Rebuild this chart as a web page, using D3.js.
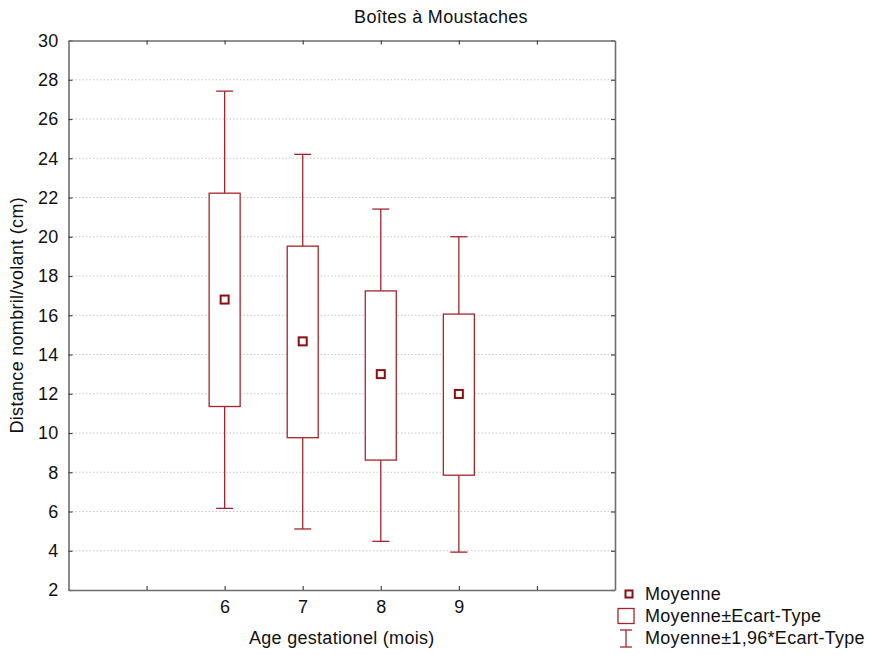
<!DOCTYPE html>
<html>
<head>
<meta charset="utf-8">
<script src="https://cdn.jsdelivr.net/npm/d3@7"></script>
<style>
  body { margin: 0; background: #fff; }
  text { font-family: "Liberation Sans", Arial, sans-serif; fill: #111; letter-spacing: 0.3px; }
</style>
</head>
<body>
<svg id="chart"></svg>
<script>
const width = 869;
const height = 655;

// values
const ages = [6, 7, 8, 9];
const means = [16.8, 14.67, 13.0, 11.99];
const boxLow = [11.35, 9.76, 8.62, 7.85];
const boxHigh = [22.22, 19.52, 17.24, 16.06];
const whiskerLow = [6.16, 5.11, 4.48, 3.93];
const whiskerHigh = [27.42, 24.2, 21.41, 20.0];
const yTicks = [2, 4, 6, 8, 10, 12, 14, 16, 18, 20, 22, 24, 26, 28, 30];
const xTicks = [5, 6, 7, 8, 9, 10];

const data = ages.map((a, i) => ({
  age: a, mean: means[i], lo: boxLow[i], hi: boxHigh[i], wlo: whiskerLow[i], whi: whiskerHigh[i]
}));

const margin = { top: 40.5, right: 254, bottom: 65, left: 68.5 };
const plotW = width - margin.left - margin.right;
const plotH = height - margin.top - margin.bottom;
const fs = "18px";

const red = "#a3262b";
const darkRed = "#8b0d12";
const axisColor = "#6e6e6e";

const svg = d3.select("#chart").attr("width", width).attr("height", height);
const g = svg.append("g").attr("transform", `translate(${margin.left},${margin.top})`);

const x = d3.scaleLinear().domain([4, 11]).range([0, plotW]);
const y = d3.scaleLinear().domain([2, 30]).range([plotH, 0]);

// dotted horizontal grid
g.append("g")
  .selectAll("line")
  .data(yTicks.filter(t => t > 2 && t < 30))
  .join("line")
  .attr("x1", 0).attr("x2", plotW)
  .attr("y1", d => y(d)).attr("y2", d => y(d))
  .attr("stroke", "#c8c8c8")
  .attr("stroke-width", 1)
  .attr("stroke-dasharray", "1.5,2");

// axes with inward ticks
const axLeft = g.append("g")
  .call(d3.axisLeft(y).tickValues(yTicks).tickSizeInner(-4).tickSizeOuter(0).tickPadding(10).tickFormat(d3.format("d")));
const axRight = g.append("g").attr("transform", `translate(${plotW},0)`)
  .call(d3.axisRight(y).tickValues(yTicks).tickSizeInner(-4).tickSizeOuter(0).tickFormat(""));
const axBottom = g.append("g").attr("transform", `translate(0,${plotH})`)
  .call(d3.axisBottom(x).tickValues(xTicks).tickSizeInner(-4).tickSizeOuter(0).tickPadding(10)
    .tickFormat(d => ages.includes(d) ? d : ""));
const axTop = g.append("g")
  .call(d3.axisTop(x).tickValues(xTicks).tickSizeInner(-4).tickSizeOuter(0).tickFormat(""));

[axLeft, axRight, axBottom, axTop].forEach(a => {
  a.select(".domain").attr("stroke", axisColor).attr("stroke-width", 1.6);
  a.selectAll(".tick line").attr("stroke", "#444").attr("stroke-width", 1.2);
  a.selectAll(".tick text").style("font-size", fs).attr("fill", "#111");
});

// whiskers and boxes
const boxes = g.append("g").selectAll("g").data(data).join("g");
const capW = 17;
const boxW = 31;

boxes.append("line")
  .attr("x1", d => x(d.age)).attr("x2", d => x(d.age))
  .attr("y1", d => y(d.whi)).attr("y2", d => y(d.hi))
  .attr("stroke", red).attr("stroke-width", 1.3);
boxes.append("line")
  .attr("x1", d => x(d.age)).attr("x2", d => x(d.age))
  .attr("y1", d => y(d.lo)).attr("y2", d => y(d.wlo))
  .attr("stroke", red).attr("stroke-width", 1.3);
boxes.append("line")
  .attr("x1", d => x(d.age) - capW / 2).attr("x2", d => x(d.age) + capW / 2)
  .attr("y1", d => y(d.whi)).attr("y2", d => y(d.whi))
  .attr("stroke", red).attr("stroke-width", 1.3);
boxes.append("line")
  .attr("x1", d => x(d.age) - capW / 2).attr("x2", d => x(d.age) + capW / 2)
  .attr("y1", d => y(d.wlo)).attr("y2", d => y(d.wlo))
  .attr("stroke", red).attr("stroke-width", 1.3);

boxes.append("rect")
  .attr("x", d => x(d.age) - boxW / 2)
  .attr("width", boxW)
  .attr("y", d => y(d.hi))
  .attr("height", d => y(d.lo) - y(d.hi))
  .attr("fill", "#fff")
  .attr("stroke", red).attr("stroke-width", 1.3);

boxes.append("rect")
  .attr("x", d => x(d.age) - 4)
  .attr("y", d => y(d.mean) - 4)
  .attr("width", 8).attr("height", 8)
  .attr("fill", "#fff")
  .attr("stroke", darkRed).attr("stroke-width", 2);

// titles
svg.append("text")
  .attr("x", 441).attr("y", 23)
  .attr("text-anchor", "middle")
  .style("font-size", fs)
  .text("Boîtes à Moustaches");

svg.append("text")
  .attr("x", margin.left + plotW / 2).attr("y", 644)
  .attr("text-anchor", "middle")
  .style("font-size", fs)
  .text("Age gestationel (mois)");

svg.append("text")
  .attr("transform", `translate(23,${margin.top + plotH / 2}) rotate(-90)`)
  .attr("text-anchor", "middle")
  .style("font-size", fs)
  .text("Distance nombril/volant (cm)");

// legend
const legend = svg.append("g");
legend.append("rect")
  .attr("x", 625.5).attr("y", 590.5).attr("width", 7).attr("height", 7)
  .attr("fill", "#fff").attr("stroke", darkRed).attr("stroke-width", 2);
legend.append("text").attr("x", 645).attr("y", 600).style("font-size", fs).text("Moyenne");

legend.append("rect")
  .attr("x", 618).attr("y", 608.5).attr("width", 16).attr("height", 15)
  .attr("fill", "#fff").attr("stroke", red).attr("stroke-width", 1.3);
legend.append("text").attr("x", 645).attr("y", 622).style("font-size", fs).text("Moyenne±Ecart-Type");

legend.append("line").attr("x1", 626).attr("x2", 626).attr("y1", 630).attr("y2", 647)
  .attr("stroke", red).attr("stroke-width", 1.3);
legend.append("line").attr("x1", 620).attr("x2", 632).attr("y1", 630).attr("y2", 630)
  .attr("stroke", red).attr("stroke-width", 1.3);
legend.append("line").attr("x1", 620).attr("x2", 632).attr("y1", 647).attr("y2", 647)
  .attr("stroke", red).attr("stroke-width", 1.3);
legend.append("text").attr("x", 645).attr("y", 644).style("font-size", fs).text("Moyenne±1,96*Ecart-Type");
</script>
</body>
</html>
